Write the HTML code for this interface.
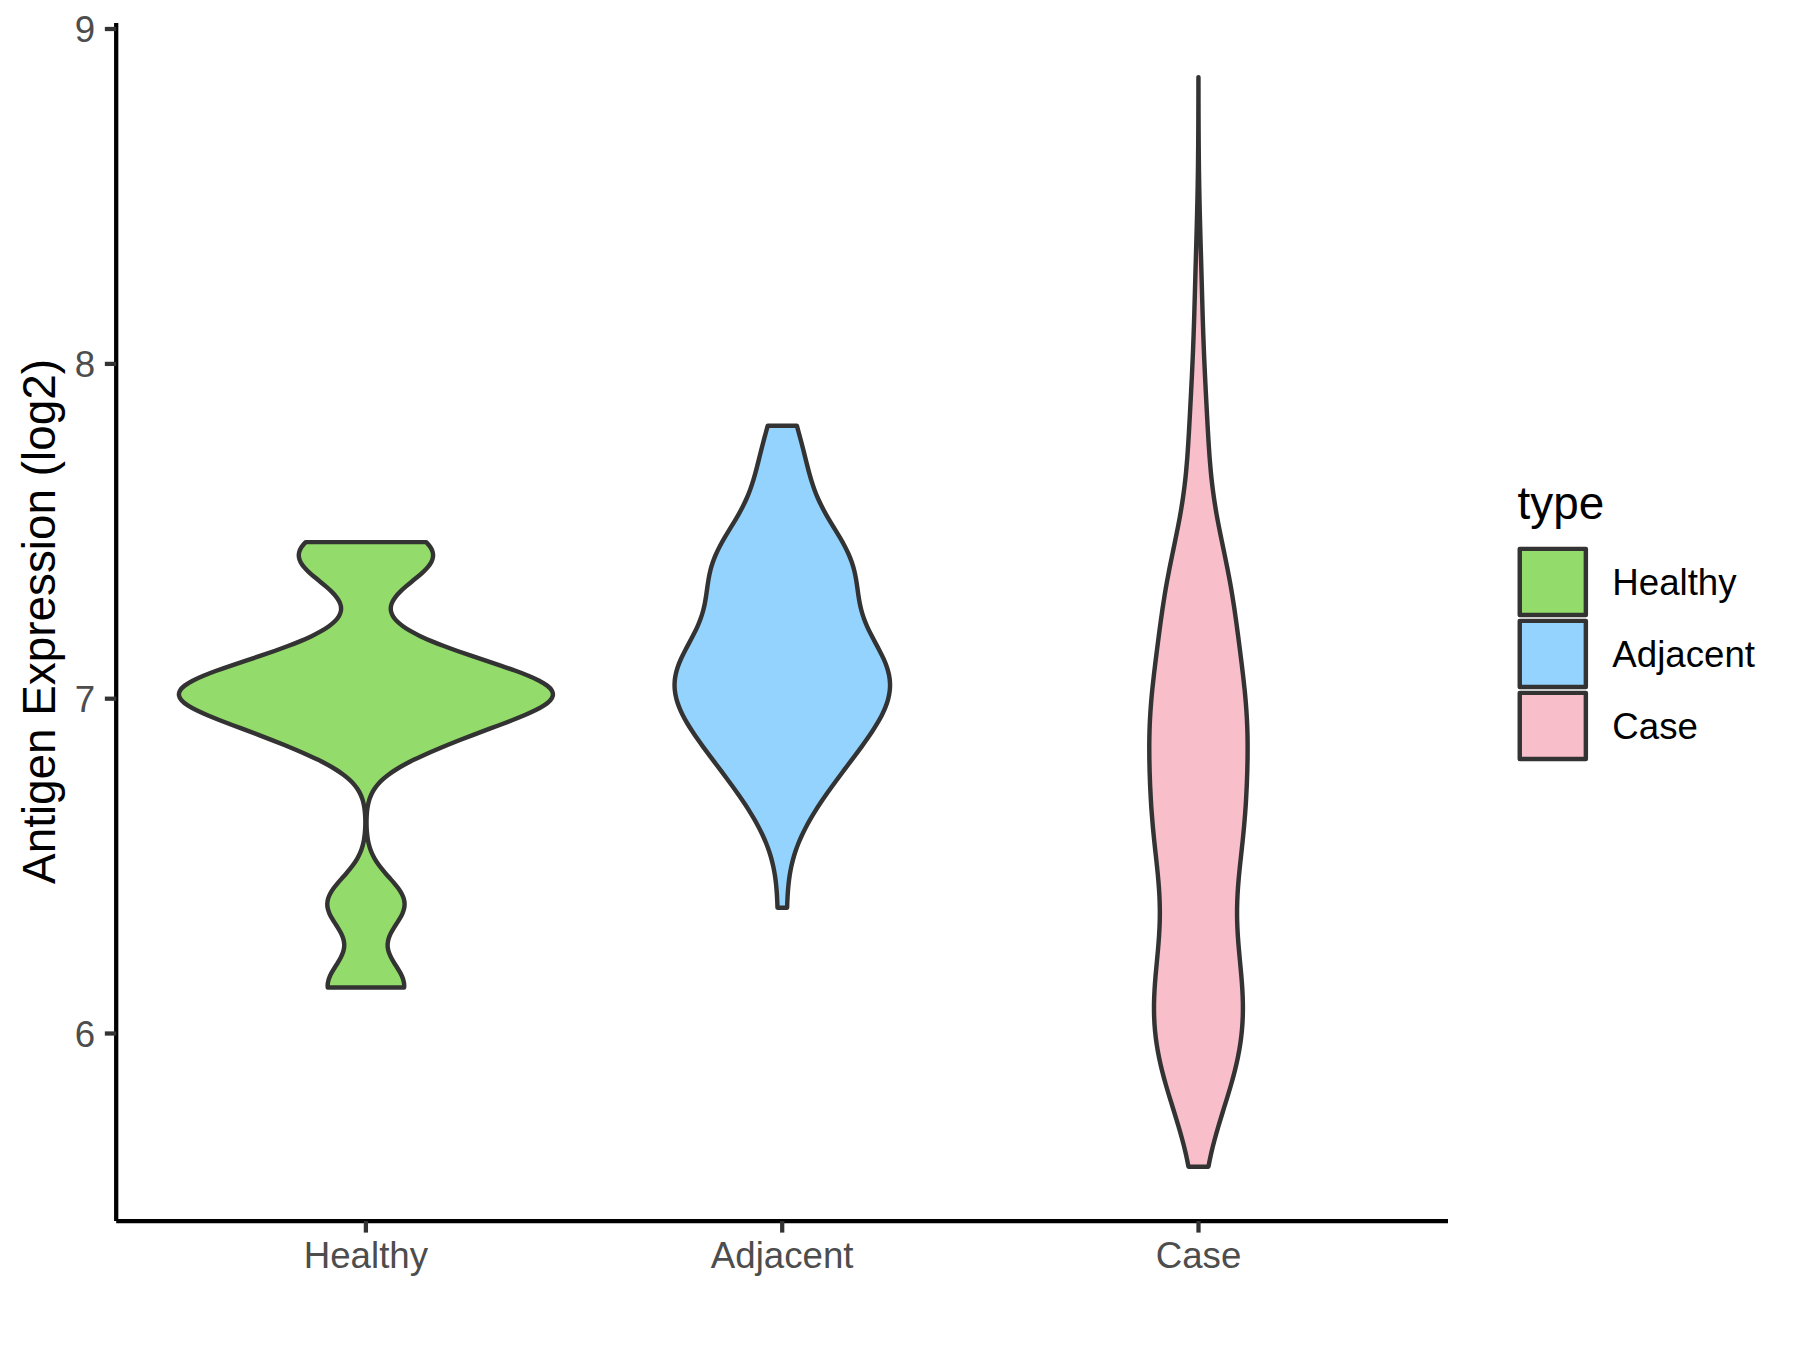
<!DOCTYPE html>
<html>
<head>
<meta charset="utf-8">
<title>Antigen Expression violin plot</title>
<style>
html,body{margin:0;padding:0;background:#fff;}
body{width:1800px;height:1350px;overflow:hidden;}
svg{display:block;}
text{font-family:"Liberation Sans",sans-serif;}
.tick{fill:#4d4d4d;font-size:36.67px;}
.leg{fill:#000;font-size:36.67px;}
.ttl{fill:#000;font-size:45.83px;}
</style>
</head>
<body>
<svg width="1800" height="1350" viewBox="0 0 1800 1350">
<rect x="0" y="0" width="1800" height="1350" fill="#ffffff"/>
<!-- VIOLINS -->
<g stroke="#333" stroke-width="4.44" stroke-linejoin="round" stroke-linecap="round">
<path fill="#93db6a" d="M305.70 542.10 C304.04 543.75 302.64 545.40 301.55 547.05 C300.46 548.70 299.68 550.35 299.23 552.00 C298.79 553.65 298.68 555.30 298.90 556.95 C299.12 558.60 299.67 560.25 300.51 561.90 C301.35 563.55 302.48 565.19 303.85 566.84 C305.21 568.49 306.80 570.14 308.55 571.79 C310.30 573.44 312.20 575.09 314.16 576.74 C316.13 578.39 318.17 580.04 320.19 581.69 C322.22 583.34 324.23 584.99 326.15 586.64 C328.07 588.29 329.89 589.94 331.57 591.59 C333.24 593.24 334.75 594.89 336.05 596.54 C337.35 598.19 338.43 599.84 339.26 601.49 C340.08 603.14 340.64 604.79 340.91 606.44 C341.18 608.09 341.15 609.73 340.81 611.38 C340.46 613.03 339.80 614.68 338.80 616.33 C337.81 617.98 336.49 619.63 334.83 621.28 C333.18 622.93 331.20 624.58 328.91 626.23 C326.62 627.88 324.01 629.53 321.11 631.18 C318.21 632.83 315.02 634.48 311.56 636.13 C308.11 637.78 304.40 639.43 300.46 641.08 C296.52 642.73 292.35 644.38 288.00 646.03 C283.65 647.68 279.12 649.33 274.45 650.98 C269.77 652.63 264.97 654.27 260.08 655.92 C255.20 657.57 250.23 659.22 245.27 660.87 C240.31 662.52 235.35 664.17 230.49 665.82 C225.63 667.47 220.87 669.12 216.33 670.77 C211.78 672.42 207.46 674.07 203.47 675.72 C199.49 677.37 195.86 679.02 192.69 680.67 C189.52 682.32 186.82 683.97 184.68 685.62 C182.54 687.27 180.97 688.92 180.02 690.57 C179.07 692.22 178.74 693.87 179.03 695.52 C179.32 697.17 180.23 698.81 181.71 700.46 C183.19 702.11 185.24 703.76 187.75 705.41 C190.27 707.06 193.26 708.71 196.59 710.36 C199.93 712.01 203.61 713.66 207.51 715.31 C211.42 716.96 215.55 718.61 219.79 720.26 C224.04 721.91 228.40 723.56 232.79 725.21 C237.18 726.86 241.60 728.51 246.00 730.16 C250.41 731.81 254.79 733.46 259.12 735.11 C263.46 736.76 267.74 738.41 271.96 740.06 C276.17 741.71 280.32 743.35 284.39 745.00 C288.45 746.65 292.43 748.30 296.31 749.95 C300.19 751.60 303.96 753.25 307.61 754.90 C311.25 756.55 314.77 758.20 318.13 759.85 C321.48 761.50 324.68 763.15 327.69 764.80 C330.70 766.45 333.53 768.10 336.15 769.75 C338.77 771.40 341.19 773.05 343.40 774.70 C345.60 776.35 347.60 778.00 349.39 779.65 C351.18 781.30 352.76 782.95 354.16 784.60 C355.56 786.25 356.78 787.89 357.83 789.54 C358.88 791.19 359.77 792.84 360.53 794.49 C361.29 796.14 361.92 797.79 362.45 799.44 C362.97 801.09 363.40 802.74 363.74 804.39 C364.09 806.04 364.36 807.69 364.58 809.34 C364.79 810.99 364.95 812.64 365.07 814.29 C365.18 815.94 365.26 817.59 365.30 819.24 C365.34 820.89 365.35 822.54 365.32 824.19 C365.30 825.84 365.24 827.49 365.15 829.14 C365.06 830.79 364.93 832.43 364.75 834.08 C364.58 835.73 364.36 837.38 364.09 839.03 C363.81 840.68 363.48 842.33 363.07 843.98 C362.67 845.63 362.19 847.28 361.62 848.93 C361.06 850.58 360.40 852.23 359.65 853.88 C358.90 855.53 358.05 857.18 357.09 858.83 C356.14 860.48 355.08 862.13 353.92 863.78 C352.77 865.43 351.52 867.08 350.19 868.73 C348.87 870.38 347.47 872.03 346.03 873.68 C344.59 875.33 343.11 876.97 341.64 878.62 C340.17 880.27 338.71 881.92 337.33 883.57 C335.94 885.22 334.62 886.87 333.42 888.52 C332.23 890.17 331.17 891.82 330.28 893.47 C329.39 895.12 328.68 896.77 328.18 898.42 C327.67 900.07 327.38 901.72 327.31 903.37 C327.24 905.02 327.39 906.67 327.73 908.32 C328.08 909.97 328.63 911.62 329.33 913.27 C330.04 914.92 330.90 916.57 331.85 918.22 C332.81 919.87 333.85 921.51 334.92 923.16 C335.98 924.81 337.06 926.46 338.09 928.11 C339.11 929.76 340.08 931.41 340.92 933.06 C341.76 934.71 342.48 936.36 343.03 938.01 C343.57 939.66 343.94 941.31 344.11 942.96 C344.29 944.61 344.26 946.26 344.04 947.91 C343.82 949.56 343.41 951.21 342.83 952.86 C342.24 954.51 341.49 956.16 340.63 957.81 C339.77 959.46 338.79 961.11 337.77 962.76 C336.74 964.41 335.67 966.05 334.63 967.70 C333.59 969.35 332.58 971.00 331.67 972.65 C330.76 974.30 329.96 975.95 329.32 977.60 C328.68 979.25 328.20 980.90 327.93 982.55 C327.66 984.20 327.59 985.85 327.73 987.50 L404.13 987.50 C404.27 985.85 404.20 984.20 403.93 982.55 C403.66 980.90 403.18 979.25 402.54 977.60 C401.90 975.95 401.10 974.30 400.19 972.65 C399.28 971.00 398.27 969.35 397.23 967.70 C396.19 966.05 395.12 964.41 394.09 962.76 C393.07 961.11 392.09 959.46 391.23 957.81 C390.37 956.16 389.62 954.51 389.03 952.86 C388.45 951.21 388.04 949.56 387.82 947.91 C387.60 946.26 387.57 944.61 387.75 942.96 C387.92 941.31 388.29 939.66 388.83 938.01 C389.38 936.36 390.10 934.71 390.94 933.06 C391.78 931.41 392.75 929.76 393.77 928.11 C394.80 926.46 395.88 924.81 396.94 923.16 C398.01 921.51 399.05 919.87 400.01 918.22 C400.96 916.57 401.82 914.92 402.53 913.27 C403.23 911.62 403.78 909.97 404.13 908.32 C404.47 906.67 404.62 905.02 404.55 903.37 C404.48 901.72 404.19 900.07 403.68 898.42 C403.18 896.77 402.47 895.12 401.58 893.47 C400.69 891.82 399.63 890.17 398.44 888.52 C397.24 886.87 395.92 885.22 394.53 883.57 C393.15 881.92 391.69 880.27 390.22 878.62 C388.75 876.97 387.27 875.33 385.83 873.68 C384.39 872.03 382.99 870.38 381.67 868.73 C380.34 867.08 379.09 865.43 377.94 863.78 C376.78 862.13 375.72 860.48 374.77 858.83 C373.81 857.18 372.96 855.53 372.21 853.88 C371.46 852.23 370.80 850.58 370.24 848.93 C369.67 847.28 369.19 845.63 368.79 843.98 C368.38 842.33 368.05 840.68 367.77 839.03 C367.50 837.38 367.28 835.73 367.11 834.08 C366.93 832.43 366.80 830.79 366.71 829.14 C366.62 827.49 366.56 825.84 366.54 824.19 C366.51 822.54 366.52 820.89 366.56 819.24 C366.60 817.59 366.68 815.94 366.79 814.29 C366.91 812.64 367.07 810.99 367.28 809.34 C367.50 807.69 367.77 806.04 368.12 804.39 C368.46 802.74 368.89 801.09 369.41 799.44 C369.94 797.79 370.57 796.14 371.33 794.49 C372.09 792.84 372.98 791.19 374.03 789.54 C375.08 787.89 376.30 786.25 377.70 784.60 C379.10 782.95 380.68 781.30 382.47 779.65 C384.26 778.00 386.26 776.35 388.46 774.70 C390.67 773.05 393.09 771.40 395.71 769.75 C398.33 768.10 401.16 766.45 404.17 764.80 C407.18 763.15 410.38 761.50 413.73 759.85 C417.09 758.20 420.61 756.55 424.25 754.90 C427.90 753.25 431.67 751.60 435.55 749.95 C439.43 748.30 443.41 746.65 447.47 745.00 C451.54 743.35 455.69 741.71 459.90 740.06 C464.12 738.41 468.40 736.76 472.74 735.11 C477.07 733.46 481.45 731.81 485.86 730.16 C490.26 728.51 494.68 726.86 499.07 725.21 C503.46 723.56 507.82 721.91 512.07 720.26 C516.31 718.61 520.44 716.96 524.35 715.31 C528.25 713.66 531.93 712.01 535.27 710.36 C538.60 708.71 541.59 707.06 544.11 705.41 C546.62 703.76 548.67 702.11 550.15 700.46 C551.63 698.81 552.54 697.17 552.83 695.52 C553.12 693.87 552.79 692.22 551.84 690.57 C550.89 688.92 549.32 687.27 547.18 685.62 C545.04 683.97 542.34 682.32 539.17 680.67 C536.00 679.02 532.37 677.37 528.39 675.72 C524.40 674.07 520.08 672.42 515.53 670.77 C510.99 669.12 506.23 667.47 501.37 665.82 C496.51 664.17 491.55 662.52 486.59 660.87 C481.63 659.22 476.66 657.57 471.78 655.92 C466.89 654.27 462.09 652.63 457.41 650.98 C452.74 649.33 448.21 647.68 443.86 646.03 C439.51 644.38 435.34 642.73 431.40 641.08 C427.46 639.43 423.75 637.78 420.30 636.13 C416.84 634.48 413.65 632.83 410.75 631.18 C407.85 629.53 405.24 627.88 402.95 626.23 C400.66 624.58 398.68 622.93 397.03 621.28 C395.37 619.63 394.05 617.98 393.06 616.33 C392.06 614.68 391.40 613.03 391.05 611.38 C390.71 609.73 390.68 608.09 390.95 606.44 C391.22 604.79 391.78 603.14 392.60 601.49 C393.43 599.84 394.51 598.19 395.81 596.54 C397.11 594.89 398.62 593.24 400.29 591.59 C401.97 589.94 403.79 588.29 405.71 586.64 C407.63 584.99 409.64 583.34 411.67 581.69 C413.69 580.04 415.73 578.39 417.70 576.74 C419.66 575.09 421.56 573.44 423.31 571.79 C425.06 570.14 426.65 568.49 428.01 566.84 C429.38 565.19 430.51 563.55 431.35 561.90 C432.19 560.25 432.74 558.60 432.96 556.95 C433.18 555.30 433.07 553.65 432.63 552.00 C432.18 550.35 431.40 548.70 430.31 547.05 C429.22 545.40 427.82 543.75 426.16 542.10 Z"/>
<path fill="#93d3fd" d="M767.74 425.70 C767.00 428.38 766.27 431.06 765.54 433.74 C764.81 436.41 764.08 439.09 763.38 441.77 C762.67 444.45 761.98 447.13 761.30 449.81 C760.62 452.48 759.95 455.16 759.28 457.84 C758.61 460.52 757.94 463.20 757.26 465.88 C756.58 468.55 755.88 471.23 755.14 473.91 C754.40 476.59 753.63 479.27 752.78 481.94 C751.94 484.62 751.04 487.30 750.05 489.98 C749.06 492.66 747.99 495.34 746.82 498.01 C745.65 500.69 744.39 503.37 743.04 506.05 C741.69 508.73 740.25 511.41 738.75 514.09 C737.24 516.76 735.66 519.44 734.05 522.12 C732.44 524.80 730.79 527.48 729.15 530.15 C727.52 532.83 725.89 535.51 724.32 538.19 C722.76 540.87 721.25 543.55 719.84 546.23 C718.43 548.90 717.13 551.58 715.95 554.26 C714.77 556.94 713.71 559.62 712.79 562.29 C711.87 564.97 711.09 567.65 710.42 570.33 C709.75 573.01 709.19 575.69 708.71 578.37 C708.23 581.04 707.83 583.72 707.45 586.40 C707.07 589.08 706.72 591.76 706.33 594.43 C705.94 597.11 705.51 599.79 705.00 602.47 C704.49 605.15 703.89 607.83 703.18 610.50 C702.46 613.18 701.63 615.86 700.67 618.54 C699.71 621.22 698.62 623.90 697.42 626.58 C696.23 629.25 694.92 631.93 693.55 634.61 C692.18 637.29 690.74 639.97 689.30 642.64 C687.85 645.32 686.40 648.00 685.01 650.68 C683.61 653.36 682.28 656.04 681.06 658.72 C679.85 661.39 678.76 664.07 677.84 666.75 C676.92 669.43 676.17 672.11 675.62 674.78 C675.08 677.46 674.73 680.14 674.61 682.82 C674.48 685.50 674.57 688.18 674.88 690.86 C675.18 693.53 675.69 696.21 676.39 698.89 C677.09 701.57 677.99 704.25 679.04 706.92 C680.10 709.60 681.32 712.28 682.67 714.96 C684.02 717.64 685.50 720.32 687.08 723.00 C688.66 725.67 690.34 728.35 692.10 731.03 C693.85 733.71 695.68 736.39 697.55 739.07 C699.43 741.74 701.36 744.42 703.31 747.10 C705.27 749.78 707.25 752.46 709.25 755.13 C711.25 757.81 713.26 760.49 715.28 763.17 C717.30 765.85 719.32 768.53 721.33 771.20 C723.33 773.88 725.33 776.56 727.32 779.24 C729.30 781.92 731.26 784.60 733.19 787.27 C735.12 789.95 737.03 792.63 738.89 795.31 C740.76 797.99 742.59 800.67 744.37 803.35 C746.15 806.02 747.88 808.70 749.55 811.38 C751.23 814.06 752.84 816.74 754.39 819.41 C755.93 822.09 757.41 824.77 758.81 827.45 C760.22 830.13 761.54 832.81 762.78 835.49 C764.02 838.16 765.18 840.84 766.25 843.52 C767.32 846.20 768.30 848.88 769.19 851.56 C770.08 854.23 770.89 856.91 771.61 859.59 C772.33 862.27 772.96 864.95 773.52 867.62 C774.07 870.30 774.55 872.98 774.96 875.66 C775.37 878.34 775.71 881.02 776.00 883.69 C776.29 886.37 776.52 889.05 776.71 891.73 C776.91 894.41 777.06 897.09 777.18 899.76 C777.31 902.44 777.40 905.12 777.49 907.80 L787.11 907.80 C787.20 905.12 787.29 902.44 787.42 899.76 C787.54 897.09 787.69 894.41 787.89 891.73 C788.08 889.05 788.31 886.37 788.60 883.69 C788.89 881.02 789.23 878.34 789.64 875.66 C790.05 872.98 790.53 870.30 791.08 867.62 C791.64 864.95 792.27 862.27 792.99 859.59 C793.71 856.91 794.52 854.23 795.41 851.55 C796.30 848.88 797.28 846.20 798.35 843.52 C799.42 840.84 800.58 838.16 801.82 835.48 C803.06 832.81 804.38 830.13 805.79 827.45 C807.19 824.77 808.67 822.09 810.21 819.41 C811.76 816.74 813.37 814.06 815.05 811.38 C816.72 808.70 818.45 806.02 820.23 803.34 C822.01 800.67 823.84 797.99 825.71 795.31 C827.57 792.63 829.48 789.95 831.41 787.27 C833.34 784.60 835.30 781.92 837.28 779.24 C839.27 776.56 841.27 773.88 843.27 771.20 C845.28 768.53 847.30 765.85 849.32 763.17 C851.34 760.49 853.35 757.81 855.35 755.13 C857.35 752.46 859.33 749.78 861.29 747.10 C863.24 744.42 865.17 741.74 867.05 739.06 C868.92 736.39 870.75 733.71 872.50 731.03 C874.26 728.35 875.94 725.67 877.52 722.99 C879.10 720.32 880.58 717.64 881.93 714.96 C883.28 712.28 884.50 709.60 885.56 706.92 C886.61 704.25 887.51 701.57 888.21 698.89 C888.91 696.21 889.42 693.53 889.72 690.86 C890.03 688.18 890.12 685.50 889.99 682.82 C889.87 680.14 889.52 677.46 888.98 674.78 C888.43 672.11 887.68 669.43 886.76 666.75 C885.84 664.07 884.75 661.39 883.54 658.71 C882.32 656.04 880.99 653.36 879.59 650.68 C878.20 648.00 876.75 645.32 875.30 642.64 C873.86 639.97 872.42 637.29 871.05 634.61 C869.68 631.93 868.37 629.25 867.18 626.57 C865.98 623.90 864.89 621.22 863.93 618.54 C862.97 615.86 862.14 613.18 861.42 610.50 C860.71 607.83 860.11 605.15 859.60 602.47 C859.09 599.79 858.66 597.11 858.27 594.43 C857.88 591.76 857.53 589.08 857.15 586.40 C856.77 583.72 856.37 581.04 855.89 578.37 C855.41 575.69 854.85 573.01 854.18 570.33 C853.51 567.65 852.73 564.97 851.81 562.29 C850.89 559.62 849.83 556.94 848.65 554.26 C847.47 551.58 846.17 548.90 844.76 546.22 C843.35 543.55 841.84 540.87 840.28 538.19 C838.71 535.51 837.08 532.83 835.45 530.15 C833.81 527.48 832.16 524.80 830.55 522.12 C828.94 519.44 827.36 516.76 825.85 514.08 C824.35 511.41 822.91 508.73 821.56 506.05 C820.21 503.37 818.95 500.69 817.78 498.01 C816.61 495.34 815.54 492.66 814.55 489.98 C813.56 487.30 812.66 484.62 811.82 481.94 C810.97 479.27 810.20 476.59 809.46 473.91 C808.72 471.23 808.02 468.55 807.34 465.87 C806.66 463.20 805.99 460.52 805.32 457.84 C804.65 455.16 803.98 452.48 803.30 449.80 C802.62 447.13 801.93 444.45 801.22 441.77 C800.52 439.09 799.79 436.41 799.06 433.73 C798.33 431.06 797.60 428.38 796.86 425.70 Z"/>
<path fill="#f8bfcb" d="M1198.43 77.30 C1198.43 81.84 1198.42 86.38 1198.42 90.92 C1198.41 95.46 1198.40 100.00 1198.39 104.53 C1198.38 109.07 1198.37 113.61 1198.35 118.15 C1198.34 122.69 1198.32 127.23 1198.29 131.77 C1198.27 136.31 1198.24 140.85 1198.20 145.39 C1198.17 149.93 1198.13 154.47 1198.08 159.00 C1198.03 163.54 1197.97 168.08 1197.91 172.62 C1197.84 177.16 1197.77 181.70 1197.69 186.24 C1197.61 190.78 1197.52 195.32 1197.42 199.86 C1197.32 204.40 1197.21 208.94 1197.10 213.48 C1196.99 218.01 1196.87 222.55 1196.75 227.09 C1196.62 231.63 1196.50 236.17 1196.37 240.71 C1196.24 245.25 1196.11 249.79 1195.97 254.33 C1195.84 258.87 1195.71 263.41 1195.58 267.94 C1195.45 272.48 1195.33 277.02 1195.20 281.56 C1195.07 286.10 1194.95 290.64 1194.82 295.18 C1194.70 299.72 1194.57 304.26 1194.44 308.80 C1194.31 313.34 1194.17 317.88 1194.03 322.42 C1193.88 326.95 1193.73 331.49 1193.57 336.03 C1193.41 340.57 1193.24 345.11 1193.06 349.65 C1192.88 354.19 1192.68 358.73 1192.48 363.27 C1192.28 367.81 1192.06 372.35 1191.84 376.89 C1191.62 381.42 1191.39 385.96 1191.16 390.50 C1190.92 395.04 1190.69 399.58 1190.45 404.12 C1190.21 408.66 1189.97 413.20 1189.73 417.74 C1189.48 422.28 1189.24 426.82 1188.98 431.36 C1188.72 435.89 1188.45 440.43 1188.16 444.97 C1187.87 449.51 1187.56 454.05 1187.21 458.59 C1186.86 463.13 1186.47 467.67 1186.04 472.21 C1185.60 476.75 1185.11 481.29 1184.56 485.83 C1184.01 490.36 1183.40 494.90 1182.73 499.44 C1182.06 503.98 1181.32 508.52 1180.53 513.06 C1179.74 517.60 1178.89 522.14 1178.01 526.68 C1177.12 531.22 1176.20 535.76 1175.26 540.30 C1174.33 544.83 1173.38 549.37 1172.44 553.91 C1171.50 558.45 1170.57 562.99 1169.67 567.53 C1168.77 572.07 1167.90 576.61 1167.07 581.15 C1166.24 585.69 1165.45 590.23 1164.71 594.76 C1163.96 599.30 1163.25 603.84 1162.58 608.38 C1161.91 612.92 1161.26 617.46 1160.64 622.00 C1160.02 626.54 1159.41 631.08 1158.82 635.62 C1158.23 640.16 1157.64 644.70 1157.06 649.24 C1156.48 653.77 1155.91 658.31 1155.35 662.85 C1154.79 667.39 1154.24 671.93 1153.72 676.47 C1153.20 681.01 1152.70 685.55 1152.24 690.09 C1151.79 694.63 1151.37 699.17 1151.01 703.71 C1150.64 708.24 1150.34 712.78 1150.09 717.32 C1149.84 721.86 1149.65 726.40 1149.52 730.94 C1149.38 735.48 1149.31 740.02 1149.28 744.56 C1149.26 749.10 1149.28 753.64 1149.34 758.18 C1149.40 762.71 1149.50 767.25 1149.63 771.79 C1149.76 776.33 1149.93 780.87 1150.12 785.41 C1150.32 789.95 1150.55 794.49 1150.81 799.03 C1151.07 803.57 1151.36 808.11 1151.70 812.64 C1152.03 817.18 1152.40 821.72 1152.81 826.26 C1153.22 830.80 1153.66 835.34 1154.13 839.88 C1154.60 844.42 1155.10 848.96 1155.59 853.50 C1156.09 858.04 1156.59 862.58 1157.07 867.12 C1157.54 871.65 1157.99 876.19 1158.37 880.73 C1158.76 885.27 1159.09 889.81 1159.34 894.35 C1159.58 898.89 1159.74 903.43 1159.81 907.97 C1159.87 912.51 1159.84 917.05 1159.72 921.59 C1159.60 926.12 1159.38 930.66 1159.10 935.20 C1158.81 939.74 1158.45 944.28 1158.06 948.82 C1157.66 953.36 1157.23 957.90 1156.80 962.44 C1156.37 966.98 1155.94 971.52 1155.55 976.06 C1155.17 980.59 1154.83 985.13 1154.56 989.67 C1154.30 994.21 1154.11 998.75 1154.03 1003.29 C1153.96 1007.83 1153.99 1012.37 1154.14 1016.91 C1154.30 1021.45 1154.58 1025.99 1155.00 1030.53 C1155.42 1035.06 1155.97 1039.60 1156.66 1044.14 C1157.34 1048.68 1158.16 1053.22 1159.09 1057.76 C1160.03 1062.30 1161.08 1066.84 1162.23 1071.38 C1163.38 1075.92 1164.62 1080.46 1165.93 1085.00 C1167.23 1089.53 1168.60 1094.07 1170.00 1098.61 C1171.40 1103.15 1172.82 1107.69 1174.23 1112.23 C1175.64 1116.77 1177.03 1121.31 1178.38 1125.85 C1179.72 1130.39 1181.02 1134.93 1182.24 1139.47 C1183.46 1144.00 1184.60 1148.54 1185.64 1153.08 C1186.68 1157.62 1187.62 1162.16 1188.45 1166.70 L1208.45 1166.70 C1209.28 1162.16 1210.22 1157.62 1211.26 1153.08 C1212.30 1148.54 1213.44 1144.00 1214.66 1139.47 C1215.88 1134.93 1217.18 1130.39 1218.52 1125.85 C1219.87 1121.31 1221.26 1116.77 1222.67 1112.23 C1224.08 1107.69 1225.50 1103.15 1226.90 1098.61 C1228.30 1094.07 1229.67 1089.53 1230.97 1085.00 C1232.28 1080.46 1233.52 1075.92 1234.67 1071.38 C1235.82 1066.84 1236.87 1062.30 1237.81 1057.76 C1238.74 1053.22 1239.56 1048.68 1240.24 1044.14 C1240.93 1039.60 1241.48 1035.06 1241.90 1030.53 C1242.32 1025.99 1242.60 1021.45 1242.76 1016.91 C1242.91 1012.37 1242.94 1007.83 1242.87 1003.29 C1242.79 998.75 1242.60 994.21 1242.34 989.67 C1242.07 985.13 1241.73 980.59 1241.35 976.06 C1240.96 971.52 1240.53 966.98 1240.10 962.44 C1239.67 957.90 1239.24 953.36 1238.84 948.82 C1238.45 944.28 1238.09 939.74 1237.80 935.20 C1237.52 930.66 1237.30 926.12 1237.18 921.59 C1237.06 917.05 1237.03 912.51 1237.09 907.97 C1237.16 903.43 1237.32 898.89 1237.56 894.35 C1237.81 889.81 1238.14 885.27 1238.53 880.73 C1238.91 876.19 1239.36 871.65 1239.83 867.12 C1240.31 862.58 1240.81 858.04 1241.31 853.50 C1241.80 848.96 1242.30 844.42 1242.77 839.88 C1243.24 835.34 1243.68 830.80 1244.09 826.26 C1244.50 821.72 1244.87 817.18 1245.20 812.64 C1245.54 808.11 1245.83 803.57 1246.09 799.03 C1246.35 794.49 1246.58 789.95 1246.78 785.41 C1246.97 780.87 1247.14 776.33 1247.27 771.79 C1247.40 767.25 1247.50 762.71 1247.56 758.17 C1247.62 753.64 1247.64 749.10 1247.62 744.56 C1247.59 740.02 1247.52 735.48 1247.38 730.94 C1247.25 726.40 1247.06 721.86 1246.81 717.32 C1246.56 712.78 1246.26 708.24 1245.89 703.70 C1245.53 699.17 1245.11 694.63 1244.66 690.09 C1244.20 685.55 1243.70 681.01 1243.18 676.47 C1242.66 671.93 1242.11 667.39 1241.55 662.85 C1240.99 658.31 1240.42 653.77 1239.84 649.24 C1239.26 644.70 1238.67 640.16 1238.08 635.62 C1237.49 631.08 1236.88 626.54 1236.26 622.00 C1235.64 617.46 1234.99 612.92 1234.32 608.38 C1233.65 603.84 1232.94 599.30 1232.19 594.76 C1231.45 590.23 1230.66 585.69 1229.83 581.15 C1229.00 576.61 1228.13 572.07 1227.23 567.53 C1226.33 562.99 1225.40 558.45 1224.46 553.91 C1223.52 549.37 1222.57 544.83 1221.64 540.29 C1220.70 535.76 1219.78 531.22 1218.89 526.68 C1218.01 522.14 1217.16 517.60 1216.37 513.06 C1215.58 508.52 1214.84 503.98 1214.17 499.44 C1213.50 494.90 1212.89 490.36 1212.34 485.82 C1211.79 481.29 1211.30 476.75 1210.86 472.21 C1210.43 467.67 1210.04 463.13 1209.69 458.59 C1209.34 454.05 1209.03 449.51 1208.74 444.97 C1208.45 440.43 1208.18 435.89 1207.92 431.36 C1207.66 426.82 1207.42 422.28 1207.17 417.74 C1206.93 413.20 1206.69 408.66 1206.45 404.12 C1206.21 399.58 1205.98 395.04 1205.74 390.50 C1205.51 385.96 1205.28 381.42 1205.06 376.88 C1204.84 372.35 1204.62 367.81 1204.42 363.27 C1204.22 358.73 1204.02 354.19 1203.84 349.65 C1203.66 345.11 1203.49 340.57 1203.33 336.03 C1203.17 331.49 1203.02 326.95 1202.87 322.41 C1202.73 317.88 1202.59 313.34 1202.46 308.80 C1202.33 304.26 1202.20 299.72 1202.08 295.18 C1201.95 290.64 1201.83 286.10 1201.70 281.56 C1201.57 277.02 1201.45 272.48 1201.32 267.94 C1201.19 263.41 1201.06 258.87 1200.93 254.33 C1200.79 249.79 1200.66 245.25 1200.53 240.71 C1200.40 236.17 1200.28 231.63 1200.15 227.09 C1200.03 222.55 1199.91 218.01 1199.80 213.47 C1199.69 208.94 1199.58 204.40 1199.48 199.86 C1199.38 195.32 1199.29 190.78 1199.21 186.24 C1199.13 181.70 1199.06 177.16 1198.99 172.62 C1198.93 168.08 1198.87 163.54 1198.82 159.00 C1198.77 154.47 1198.73 149.93 1198.70 145.39 C1198.66 140.85 1198.63 136.31 1198.61 131.77 C1198.58 127.23 1198.56 122.69 1198.55 118.15 C1198.53 113.61 1198.52 109.07 1198.51 104.53 C1198.50 100.00 1198.49 95.46 1198.48 90.92 C1198.48 86.38 1198.47 81.84 1198.47 77.30 Z"/>
</g>
<!-- axis lines -->
<g stroke="#000" stroke-width="4.27" fill="none">
<line x1="116.2" y1="22.9" x2="116.2" y2="1221.1"/>
<line x1="116.2" y1="1221.1" x2="1448" y2="1221.1"/>
</g>
<!-- ticks -->
<g stroke="#333" stroke-width="4.27" fill="none">
<line x1="104.84" y1="29" x2="116.2" y2="29"/>
<line x1="104.84" y1="363.9" x2="116.2" y2="363.9"/>
<line x1="104.84" y1="698.7" x2="116.2" y2="698.7"/>
<line x1="104.84" y1="1033.5" x2="116.2" y2="1033.5"/>
<line x1="365.9" y1="1221.1" x2="365.9" y2="1232.6"/>
<line x1="782.2" y1="1221.1" x2="782.2" y2="1232.6"/>
<line x1="1198.5" y1="1221.1" x2="1198.5" y2="1232.6"/>
</g>
<!-- tick labels -->
<g class="tick" text-anchor="end">
<text x="95.1" y="42">9</text>
<text x="95.1" y="377">8</text>
<text x="95.1" y="712">7</text>
<text x="95.1" y="1047">6</text>
</g>
<g class="tick" text-anchor="middle">
<text x="365.9" y="1268">Healthy</text>
<text x="782.2" y="1268">Adjacent</text>
<text x="1198.5" y="1268">Case</text>
</g>
<text class="ttl" text-anchor="middle" transform="translate(55,621.5) rotate(-90)">Antigen Expression (log2)</text>
<!-- legend -->
<text class="ttl" x="1517.6" y="518.5">type</text>
<g stroke="#333" stroke-width="4.44" stroke-linejoin="round">
<rect x="1519.75" y="548.85" width="66.1" height="66.1" fill="#93db6a"/>
<rect x="1519.75" y="620.85" width="66.1" height="66.1" fill="#93d3fd"/>
<rect x="1519.75" y="692.85" width="66.1" height="66.1" fill="#f8bfcb"/>
</g>
<g class="leg">
<text x="1612.3" y="595">Healthy</text>
<text x="1612.3" y="667">Adjacent</text>
<text x="1612.3" y="739">Case</text>
</g>
</svg>
</body>
</html>
